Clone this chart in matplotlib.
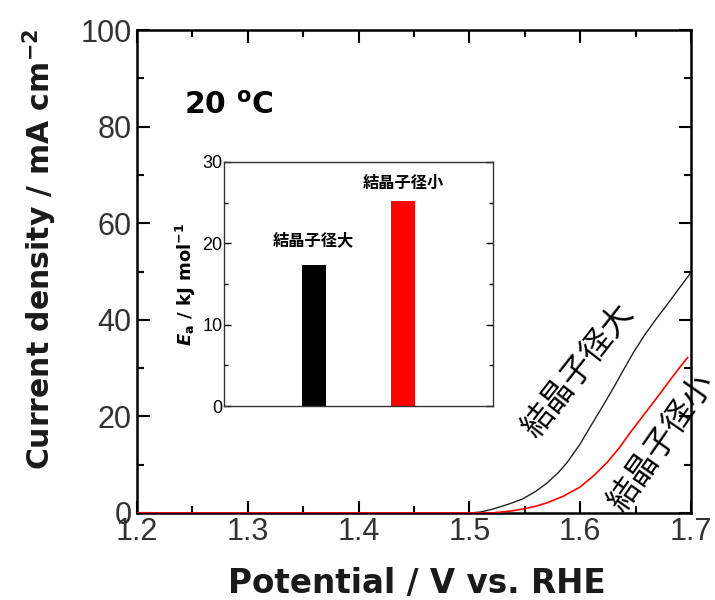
import matplotlib
matplotlib.use('Agg')
import matplotlib.pyplot as plt
from matplotlib.ticker import MultipleLocator, FormatStrFormatter

plt.rcParams['font.family'] = ['Liberation Sans', 'Noto Sans CJK JP', 'DejaVu Sans']
plt.rcParams['axes.unicode_minus'] = False
plt.rcParams['mathtext.fontset'] = 'custom'
plt.rcParams['mathtext.rm'] = 'DejaVu Sans:bold'
plt.rcParams['mathtext.it'] = 'DejaVu Sans:bold:italic'
plt.rcParams['mathtext.bf'] = 'DejaVu Sans:bold'

# LSV curves at 20 C: potential (V vs. RHE) and current density (mA cm-2)
pot_large = [1.20, 1.50, 1.510, 1.521, 1.535, 1.548, 1.560, 1.570, 1.580, 1.588,
             1.600, 1.609, 1.620, 1.630, 1.640, 1.648, 1.658, 1.669, 1.678, 1.687, 1.700]
cur_large = [0.0, 0.0, 0.2, 0.8, 1.8, 2.9, 4.5, 6.2, 8.3, 10.4,
             14.3, 17.8, 22.0, 25.9, 30.0, 33.2, 36.8, 40.3, 43.0, 45.8, 49.8]

pot_small = [1.20, 1.52, 1.537, 1.550, 1.560, 1.570, 1.585, 1.600, 1.612, 1.624,
             1.635, 1.645, 1.654, 1.663, 1.672, 1.681, 1.690, 1.697]
cur_small = [0.0, 0.0, 0.4, 0.9, 1.4, 2.1, 3.5, 5.4, 7.7, 10.4,
             13.4, 16.6, 19.3, 22.0, 24.7, 27.5, 30.2, 32.2]

# activation energies (inset)
samples = ['結晶子径大', '結晶子径小']
ea_values = [17.3, 25.2]
bar_colors = ['black', 'red']
label_heights = [20.4, 27.4]

cjk = ['Noto Sans CJK JP', 'DejaVu Sans']
tick_grey = '#333333'

fig = plt.figure(figsize=(7.15, 6), dpi=100)
ax = fig.add_axes([0.1916, 0.145, 0.7748, 0.805])

ax.plot(pot_large, cur_large, color='#222222', lw=1.0, zorder=3)
ax.plot(pot_small, cur_small, color='red', lw=1.2, zorder=3)

ax.set_xlim(1.2, 1.7)
ax.set_ylim(0, 100)
ax.xaxis.set_major_locator(MultipleLocator(0.1))
ax.xaxis.set_minor_locator(MultipleLocator(0.05))
ax.xaxis.set_major_formatter(FormatStrFormatter('%.1f'))
ax.yaxis.set_major_locator(MultipleLocator(20))
ax.yaxis.set_minor_locator(MultipleLocator(10))
ax.tick_params(which='both', direction='in', top=True, right=True, width=1.5,
               color='black')
ax.tick_params(which='major', length=9, labelsize=22, labelcolor=tick_grey)
ax.tick_params(which='minor', length=5)
ax.tick_params(axis='x', pad=3)
ax.tick_params(axis='y', pad=4)
for sp in ax.spines.values():
    sp.set_linewidth(1.8)

fig.text(417 / 715, 1 - 583 / 600, 'Potential / V vs. RHE', ha='center', va='center',
         fontsize=23.5, fontweight='bold', color='#1a1a1a', family='DejaVu Sans')
fig.text(40 / 715, 1 - 249 / 600, 'Current density / mA cm$^{-2}$', ha='center',
         va='center', rotation=90, fontsize=21.5, fontweight='bold', color='#1a1a1a',
         family='DejaVu Sans')

ax.text(0.166, 0.843, '20 $^{\\rm o}$C', transform=ax.transAxes, ha='center',
        va='center', fontsize=21.5, fontweight='bold', family='DejaVu Sans')

ax.text(1.598, 29.6, '結晶子径大', rotation=52, ha='center', va='center',
        fontsize=23, family=cjk, rotation_mode='anchor')
ax.text(1.673, 14.6, '結晶子径小', rotation=55, ha='center', va='center',
        fontsize=23, family=cjk, rotation_mode='anchor', clip_on=False)

# inset: activation energy bars
ins = fig.add_axes([0.3133, 0.3233, 0.3762, 0.4067])
xpos = [1, 2]
ins.bar(xpos, ea_values, width=0.27, color=bar_colors)
for x, name, h in zip(xpos, samples, label_heights):
    ins.text(x, h, name, ha='center', va='center', fontsize=11.7,
             fontweight='bold', family=cjk)
ins.set_xlim(0, 3)
ins.set_ylim(0, 30)
ins.set_xticks([])
ins.yaxis.set_major_locator(MultipleLocator(10))
ins.yaxis.set_minor_locator(MultipleLocator(5))
ins.tick_params(axis='y', which='both', direction='in', right=True, width=1.0,
                labelsize=13, pad=1)
ins.tick_params(axis='y', which='major', length=5)
ins.tick_params(axis='y', which='minor', length=3)
for sp in ins.spines.values():
    sp.set_linewidth(1.0)
    sp.set_color('#333333')
ins.set_ylabel('$E$$_{\\rm a}$ / kJ mol$^{-1}$', fontsize=13, fontweight='bold',
               labelpad=3, family='DejaVu Sans')

fig.savefig('out.png', dpi=100, facecolor='white')
